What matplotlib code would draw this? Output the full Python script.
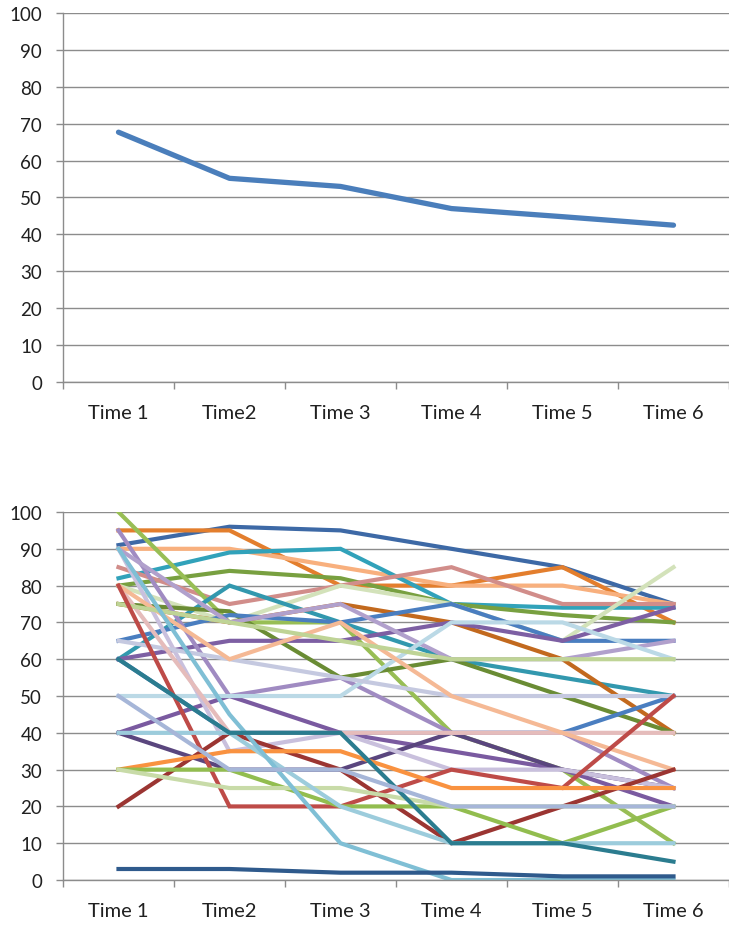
import matplotlib.pyplot as plt
from matplotlib.ticker import MultipleLocator, FixedLocator

plt.rcParams['font.family'] = ['Lato', 'DejaVu Sans']

times = ['Time 1', 'Time2', 'Time 3', 'Time 4', 'Time 5', 'Time 6']
x = [1, 2, 3, 4, 5, 6]

# top chart: mean score
mean_score = [67.7, 55.2, 53.0, 47.0, 44.8, 42.5]

# bottom chart: one line per subject
dark_blue = [91, 96, 95, 90, 85, 75]
orange = [95, 95, 80, 80, 85, 70]
peach = [90, 90, 85, 80, 80, 75]
teal = [82, 89, 90, 75, 74, 74]
olive = [80, 84, 82, 75, 72, 70]
rose = [85, 75, 80, 85, 75, 75]
pale_green = [80, 70, 80, 75, 65, 85]
green = [100, 70, 70, 40, 30, 10]
teal_spike = [60, 80, 70, 60, 55, 50]
dark_orange = [75, 70, 75, 70, 60, 40]
dark_olive = [75, 73, 55, 60, 50, 40]
blue_a = [65, 72, 70, 75, 65, 65]
blue_b = [60, 40, 40, 40, 40, 50]
purple_a = [60, 65, 65, 70, 65, 74]
purple_b = [40, 50, 40, 35, 30, 20]
dark_purple = [40, 30, 30, 40, 30, 25]
lavender = [95, 50, 55, 40, 40, 25]
lavender2 = [90, 70, 75, 60, 60, 65]
light_blue = [50, 50, 50, 70, 70, 60]
light_lavender = [90, 35, 40, 30, 30, 25]
lilac = [65, 60, 55, 50, 50, 50]
pink_light = [80, 40, 40, 40, 40, 40]
peach2 = [80, 60, 70, 50, 40, 30]
light_green2 = [75, 70, 65, 60, 60, 60]
red = [80, 20, 20, 30, 25, 50]
dark_red = [20, 40, 30, 10, 20, 30]
orange_bright = [30, 35, 35, 25, 25, 25]
green2 = [30, 30, 20, 20, 10, 20]
pale_green2 = [30, 25, 25, 20, 20, 20]
light_blue3 = [40, 40, 20, 10, 10, 10]
light_blue2 = [90, 45, 10, 0, 0, 0]
dark_teal = [60, 40, 40, 10, 10, 5]
blue_lavender = [50, 30, 30, 20, 20, 20]
bottom_blue = [3, 3, 2, 2, 1, 1]

subjects = [
    (dark_blue, '#3D69A6'), (orange, '#E37E2D'), (peach, '#F8B07E'),
    (teal, '#31A2BA'), (olive, '#78A040'), (rose, '#D18D8A'),
    (pale_green, '#D3E2BA'), (green, '#98BE55'), (teal_spike, '#3298AE'),
    (dark_orange, '#C2691E'), (dark_olive, '#6A8C34'), (blue_a, '#4A7EC0'),
    (blue_b, '#4A7EC0'), (purple_a, '#7D5FA3'), (purple_b, '#7A5AA0'),
    (dark_purple, '#5A467E'), (lavender, '#A08BC2'), (lavender2, '#B1A0CC'),
    (light_blue, '#BBD9E6'), (light_lavender, '#C9C0DD'), (lilac, '#C5C9E0'),
    (pink_light, '#E5BCBB'), (peach2, '#F5B995'), (light_green2, '#BFD496'),
    (red, '#BE4B48'), (dark_red, '#9B3532'), (orange_bright, '#F99240'),
    (green2, '#92BD4F'), (pale_green2, '#C8DBA8'), (light_blue3, '#9CCCDC'),
    (light_blue2, '#7FBFD5'), (dark_teal, '#2B7C8F'), (blue_lavender, '#A6B6D8'),
    (bottom_blue, '#2F5A8C'),
]

grid_c = '#8C8C8C'


def style_axis(ax):
    ax.set_xlim(0.5, 6.5)
    ax.set_ylim(0, 100)
    ax.yaxis.set_major_locator(MultipleLocator(10))
    ax.grid(axis='y', color=grid_c, linewidth=1.0)
    ax.set_axisbelow(True)
    for s in ['top', 'right']:
        ax.spines[s].set_visible(False)
    for s in ['left', 'bottom']:
        ax.spines[s].set_color(grid_c)
        ax.spines[s].set_linewidth(1.0)
    ax.set_xticks(x)
    ax.set_xticklabels(times)
    ax.xaxis.set_minor_locator(FixedLocator([0.5, 1.5, 2.5, 3.5, 4.5, 5.5, 6.5]))
    ax.tick_params(axis='x', which='major', length=0, pad=16, labelsize=14.5, labelcolor='#202020')
    ax.tick_params(axis='x', which='minor', length=5, color=grid_c, width=1)
    ax.tick_params(axis='y', length=5, color=grid_c, width=1, pad=10, labelsize=13.5, labelcolor='#202020')


fig = plt.figure(figsize=(7.29, 9.28), dpi=100)

ax1 = fig.add_axes([0.0864, 0.5873, 0.9136, 0.3976])
ax1.plot(x, mean_score, color='#4A7EBB', linewidth=3.8, solid_capstyle='round')
style_axis(ax1)

ax2 = fig.add_axes([0.0864, 0.0506, 0.9136, 0.3966])
for vals, col in subjects:
    ax2.plot(x, vals, color=col, linewidth=3.0, solid_joinstyle='miter')
style_axis(ax2)

fig.savefig('out.png', dpi=100)
